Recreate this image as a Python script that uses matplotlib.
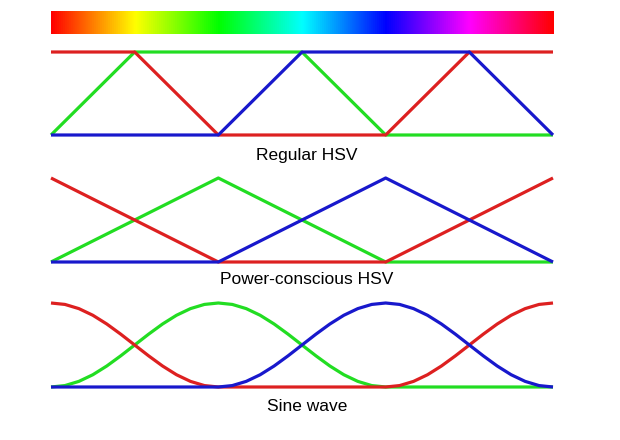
import numpy as np
import matplotlib
matplotlib.use("Agg")
import matplotlib.pyplot as plt
from matplotlib.colors import LinearSegmentedColormap

# hue in degrees, one knot every 60
hue = [0, 60, 120, 180, 240, 300, 360]

# regular HSV channels
reg_r = [1, 1, 0, 0, 0, 1, 1]
reg_g = [0, 1, 1, 1, 0, 0, 0]
reg_b = [0, 0, 0, 1, 1, 1, 0]

# power-conscious HSV channels
pow_r = [1, 0.5, 0, 0, 0, 0.5, 1]
pow_g = [0, 0.5, 1, 0.5, 0, 0, 0]
pow_b = [0, 0, 0, 0.5, 1, 0.5, 0]

# sine wave: one rising half (0..120 deg, every 10 deg)
sine_hue = list(range(0, 361, 10))
rise = [0, 0.017, 0.067, 0.146, 0.25, 0.371, 0.5, 0.629, 0.75, 0.854, 0.933, 0.983, 1]
fall = rise[::-1]
zero = [0] * 11
sin_r = fall + zero + rise
sin_g = rise + fall[1:] + zero + [0]
sin_b = [0] * 12 + rise + fall[1:]

labels = ["Regular HSV", "Power-conscious HSV", "Sine wave"]

RED = "#dd2020"
GREEN = "#22dd22"
BLUE = "#1818cc"

W, H = 620, 440
fig = plt.figure(figsize=(W / 100, H / 100), dpi=100)
fig.patch.set_facecolor("white")

x0, x1 = 51, 553

def px_axes(top, bottom):
    return fig.add_axes([x0 / W, 1 - bottom / H, (x1 - x0) / W, (bottom - top) / H])

# gradient bar built from the regular HSV channels
cmap = LinearSegmentedColormap.from_list(
    "hue", [(h / 360, (r, g, b)) for h, r, g, b in zip(hue, reg_r, reg_g, reg_b)])
axg = fig.add_axes([x0 / W, 1 - 34 / H, (x1 + 1 - x0) / W, 23 / H])
axg.imshow(np.linspace(0, 1, 512)[None, :], aspect="auto", cmap=cmap)
axg.axis("off")

panels = [
    (52, 135, hue, reg_r, reg_g, reg_b),
    (178, 262, hue, pow_r, pow_g, pow_b),
    (303, 387, sine_hue, sin_r, sin_g, sin_b),
]
label_y = [155, 280, 406]

for (top, bottom, xs, r, g, b), lab, ly in zip(panels, labels, label_y):
    ax = px_axes(top, bottom)
    for ys, c in ((g, GREEN), (r, RED), (b, BLUE)):
        ax.plot(xs, ys, color=c, lw=2.3, clip_on=False, solid_capstyle="butt")
    ax.set_xlim(0, 360)
    ax.set_ylim(0, 1)
    ax.axis("off")
    fig.text(307 / W, 1 - ly / H, lab, ha="center", va="center",
             fontsize=12.5, family="Liberation Sans")

fig.savefig("out.png", dpi=100, facecolor="white")
